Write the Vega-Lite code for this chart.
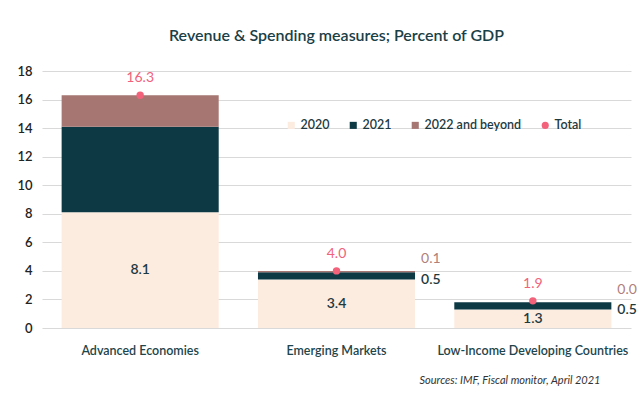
{
  "$schema": "https://vega.github.io/schema/vega-lite/v6.json",
  "width": 589,
  "height": 257,
  "autosize": {"type": "none"},
  "padding": {"left": 42, "top": 71, "right": 11, "bottom": 82},
  "background": "white",
  "config": {
    "font": "Lato, sans-serif",
    "view": {"stroke": null},
    "axisY": {
      "tickCount": 9,
      "labelOverlap": false,
      "title": null,
      "domain": false,
      "ticks": false,
      "labelPadding": 10,
      "labelFontSize": 13,
      "labelFontWeight": 600,
      "labelColor": "#222222",
      "gridColor": "#D9D9D9"
    }
  },
  "title": {
    "text": "Revenue & Spending measures; Percent of GDP",
    "fontSize": 16,
    "fontWeight": 600,
    "color": "#1A4047",
    "anchor": "middle",
    "offset": 21
  },
  "datasets": {
    "segments": [
      {"region": "Advanced Economies", "category": "2020", "value": 8.1},
      {"region": "Advanced Economies", "category": "2021", "value": 6.0},
      {"region": "Advanced Economies", "category": "2022 and beyond", "value": 2.2},
      {"region": "Emerging Markets", "category": "2020", "value": 3.4},
      {"region": "Emerging Markets", "category": "2021", "value": 0.5},
      {"region": "Emerging Markets", "category": "2022 and beyond", "value": 0.1},
      {"region": "Low-Income Developing Countries", "category": "2020", "value": 1.3},
      {"region": "Low-Income Developing Countries", "category": "2021", "value": 0.5},
      {"region": "Low-Income Developing Countries", "category": "2022 and beyond", "value": 0.0}
    ],
    "totals": [
      {"region": "Advanced Economies", "category": "Total", "value": 16.3},
      {"region": "Emerging Markets", "category": "Total", "value": 4.0},
      {"region": "Low-Income Developing Countries", "category": "Total", "value": 1.9}
    ]
  },
  "encoding": {
    "x": {
      "field": "region",
      "type": "nominal",
      "sort": null,
      "scale": {"paddingInner": 0.2, "paddingOuter": 0.1},
      "axis": {
        "title": "Sources: IMF, Fiscal monitor, April 2021",
        "titleFontStyle": "italic",
        "titleFontWeight": "normal",
        "titleFontSize": 11,
        "titleColor": "#333333",
        "titleX": 558,
        "titleAlign": "right",
        "titlePadding": 18,
        "labelAngle": 0,
        "labelPadding": 16,
        "labelFontSize": 12.5,
        "labelFontWeight": 600,
        "labelColor": "#1E454B",
        "labelLimit": 300,
        "ticks": false,
        "domain": false
      }
    }
  },
  "layer": [
    {
      "data": {"name": "segments"},
      "mark": {"type": "bar"},
      "encoding": {
        "y": {
          "field": "value",
          "type": "quantitative",
          "stack": "zero",
          "scale": {"domain": [0, 18]}
        },
        "order": {"field": "category", "sort": "ascending"},
        "color": {
          "field": "category",
          "type": "nominal",
          "scale": {
            "domain": ["2020", "2021", "2022 and beyond", "Total"],
            "range": ["#FCEBDF", "#0D3944", "#A67672", "#F2627B"]
          },
          "legend": {
            "orient": "none",
            "legendX": 243,
            "legendY": 48,
            "direction": "horizontal",
            "title": null,
            "labelFontSize": 12.5,
            "labelFontWeight": 600,
            "labelColor": "#1E3A40",
            "symbolSize": 50,
            "columnPadding": 17,
            "labelOffset": 3
          }
        }
      }
    },
    {
      "data": {"name": "segments"},
      "transform": [
        {"stack": "value", "groupby": ["region"], "sort": [{"field": "category", "order": "ascending"}], "as": ["y0", "y1"]},
        {"calculate": "(datum.y0 + datum.y1) / 2", "as": "ymid"},
        {"filter": "datum.category == '2020'"}
      ],
      "mark": {"type": "text", "fontSize": 14, "fontWeight": 600, "color": "#1E3A40"},
      "encoding": {
        "y": {"field": "ymid", "type": "quantitative"},
        "text": {"field": "value", "type": "quantitative", "format": ".1f"}
      }
    },
    {
      "data": {"name": "segments"},
      "transform": [
        {"stack": "value", "groupby": ["region"], "sort": [{"field": "category", "order": "ascending"}], "as": ["y0", "y1"]},
        {"filter": "datum.category == '2021' && datum.region != 'Advanced Economies'"}
      ],
      "mark": {"type": "text", "fontSize": 14, "fontWeight": 600, "color": "#1E3A40", "align": "left", "dx": 6, "dy": 8},
      "encoding": {
        "x": {"field": "region", "type": "nominal", "sort": null, "bandPosition": 1},
        "y": {"field": "y1", "type": "quantitative"},
        "text": {"field": "value", "type": "quantitative", "format": ".1f"}
      }
    },
    {
      "data": {"name": "segments"},
      "transform": [
        {"stack": "value", "groupby": ["region"], "sort": [{"field": "category", "order": "ascending"}], "as": ["y0", "y1"]},
        {"filter": "datum.category == '2022 and beyond' && datum.region != 'Advanced Economies'"}
      ],
      "mark": {"type": "text", "fontSize": 14, "color": "#B07F7B", "align": "left", "dx": 6, "dy": -12},
      "encoding": {
        "x": {"field": "region", "type": "nominal", "sort": null, "bandPosition": 1},
        "y": {"field": "y1", "type": "quantitative"},
        "text": {"field": "value", "type": "quantitative", "format": ".1f"}
      }
    },
    {
      "data": {"name": "totals"},
      "mark": {"type": "point", "filled": true, "size": 55, "opacity": 1},
      "encoding": {
        "y": {"field": "value", "type": "quantitative"},
        "color": {"field": "category", "type": "nominal"},
        "shape": {
          "field": "category",
          "type": "nominal",
          "scale": {
            "domain": ["2020", "2021", "2022 and beyond", "Total"],
            "range": ["square", "square", "square", "circle"]
          },
          "legend": {
            "orient": "none",
            "legendX": 243,
            "legendY": 48,
            "direction": "horizontal",
            "title": null,
            "labelFontSize": 12.5,
            "labelFontWeight": 600,
            "labelColor": "#1E3A40",
            "symbolSize": 50,
            "columnPadding": 17,
            "labelOffset": 3
          }
        }
      }
    },
    {
      "data": {"name": "totals"},
      "mark": {"type": "text", "fontSize": 14, "color": "#F2627B", "dy": -17},
      "encoding": {
        "y": {"field": "value", "type": "quantitative"},
        "text": {"field": "value", "type": "quantitative", "format": ".1f"}
      }
    }
  ]
}
